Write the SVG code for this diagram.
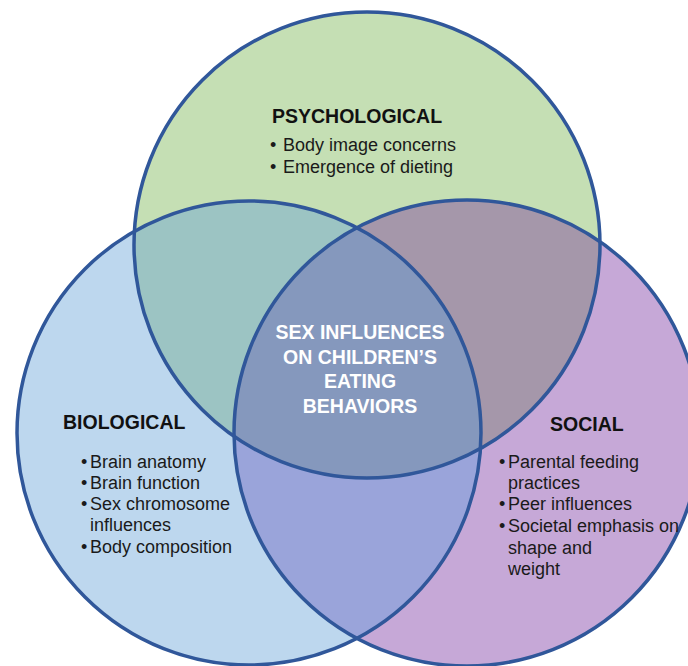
<svg xmlns="http://www.w3.org/2000/svg" width="688" height="666" viewBox="0 0 688 666">
  <style>
    .outline { fill: none; stroke: #30579a; stroke-width: 3.5; }
    .head { font-family: "Liberation Sans", Arial, sans-serif; font-weight: bold; font-size: 19.5px; fill: #111; }
    .item { font-family: "Liberation Sans", Arial, sans-serif; font-size: 18px; fill: #1a1a1a; }
    .core { font-family: "Liberation Sans", Arial, sans-serif; font-weight: bold; font-size: 19.5px; fill: #ffffff; text-anchor: middle; }
  </style>
  <defs>
    <clipPath id="clipPsych"><circle cx="367" cy="245" r="233"/></clipPath>
    <clipPath id="clipBio"><circle cx="249" cy="433" r="232"/></clipPath>
    <clipPath id="clipSocial"><circle cx="467" cy="433" r="233"/></clipPath>
  </defs>

  <rect width="688" height="666" fill="#ffffff"/>

  <!-- base discs -->
  <g id="fills">
    <circle cx="367" cy="245" r="233" fill="#c5dfb4"/>
    <circle cx="249" cy="433" r="232" fill="#bdd7ee"/>
    <circle cx="467" cy="433" r="233" fill="#c6a8d7"/>
    <!-- pairwise overlaps -->
    <circle cx="249" cy="433" r="232" fill="#9cc4c3" clip-path="url(#clipPsych)"/>
    <circle cx="467" cy="433" r="233" fill="#a597aa" clip-path="url(#clipPsych)"/>
    <circle cx="467" cy="433" r="233" fill="#9aa4da" clip-path="url(#clipBio)"/>
    <!-- triple overlap -->
    <g clip-path="url(#clipPsych)">
      <circle cx="467" cy="433" r="233" fill="#8598bd" clip-path="url(#clipBio)"/>
    </g>
  </g>

  <!-- circle outlines -->
  <g id="outlines">
    <circle class="outline" cx="367" cy="245" r="233"/>
    <circle class="outline" cx="249" cy="433" r="232"/>
    <circle class="outline" cx="467" cy="433" r="233"/>
  </g>

  <g id="psychological">
    <text class="head" x="272" y="123">PSYCHOLOGICAL</text>
    <text class="item"><tspan x="270" y="151">•</tspan><tspan x="283" y="151">Body image concerns</tspan></text>
    <text class="item"><tspan x="270" y="173">•</tspan><tspan x="283" y="173">Emergence of dieting</tspan></text>
  </g>

  <g id="biological">
    <text class="head" x="63" y="429">BIOLOGICAL</text>
    <text class="item"><tspan x="81" y="468">•</tspan><tspan x="90" y="468">Brain anatomy</tspan></text>
    <text class="item"><tspan x="81" y="489">•</tspan><tspan x="90" y="489">Brain function</tspan></text>
    <text class="item"><tspan x="81" y="510">•</tspan><tspan x="90" y="510">Sex chromosome</tspan></text>
    <text class="item" x="90" y="531">influences</text>
    <text class="item"><tspan x="81" y="553">•</tspan><tspan x="90" y="553">Body composition</tspan></text>
  </g>

  <g id="social">
    <text class="head" x="550" y="431">SOCIAL</text>
    <text class="item"><tspan x="499" y="468">•</tspan><tspan x="508" y="468">Parental feeding</tspan></text>
    <text class="item" x="508" y="489">practices</text>
    <text class="item"><tspan x="499" y="510">•</tspan><tspan x="508" y="510">Peer influences</tspan></text>
    <text class="item"><tspan x="499" y="532">•</tspan><tspan x="508" y="532">Societal emphasis on</tspan></text>
    <text class="item" x="508" y="554">shape and</text>
    <text class="item" x="508" y="575">weight</text>
  </g>

  <g id="center">
    <text class="core" x="360" y="339">SEX INFLUENCES</text>
    <text class="core" x="360" y="364">ON CHILDREN’S</text>
    <text class="core" x="360" y="388">EATING</text>
    <text class="core" x="360" y="413">BEHAVIORS</text>
  </g>
</svg>
